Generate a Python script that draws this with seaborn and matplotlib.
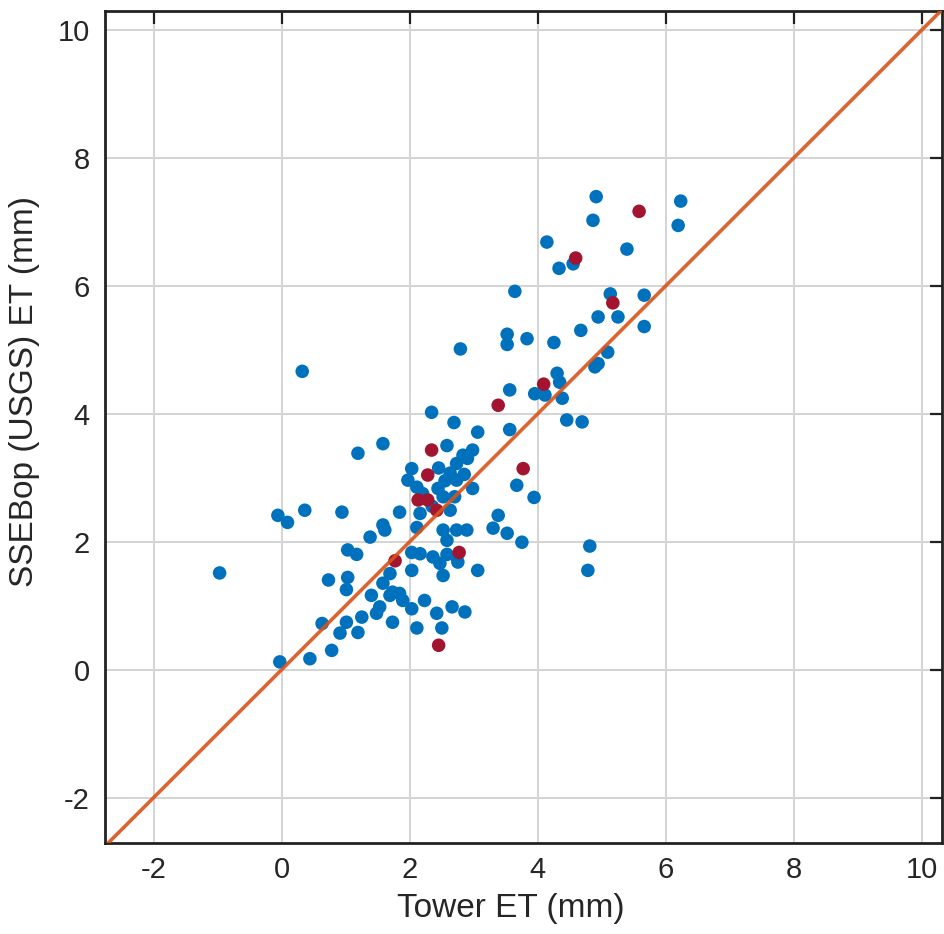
import numpy as np
import pandas as pd
import matplotlib
matplotlib.use("Agg")
import matplotlib.pyplot as plt
import seaborn as sns

# Tower-measured ET vs. SSEBop (USGS) estimate, mm/day
tower_blue = [
    4.91, 4.86, 6.23, 6.19, 4.14, 5.39, 4.55, 4.33, 3.64, 5.13,
    5.66, 4.94, 5.25, 5.66, 4.67, 2.79, 3.52, 3.52, 3.83, 4.25,
    5.09, 4.94, 4.89, 4.30, 3.56, 3.95, 4.11, 4.34, 4.38, 0.32,
    2.34, 2.69, 3.06, 3.56, 4.45, 4.69, 1.19, 1.58, 2.58, 2.98,
    2.83, 2.73, 2.03, 1.97, 2.63, 2.73, 2.44, 2.11, 2.98, 3.67,
    3.94, 2.52, 2.63, 2.16, 1.84, 0.94, -0.06, 0.09, 0.36, 1.58,
    1.61, 1.38, 2.11, 2.52, 2.73, 2.89, 3.38, 3.30, 3.52, 3.75,
    2.58, 4.81, 4.78, -0.97, 1.03, 1.17, 0.73, 1.03, 1.01, 1.40,
    1.58, 1.69, 0.63, 1.01, 1.25, 0.91, 1.19, 1.48, 1.73, 0.78,
    0.44, -0.03, 2.03, 2.16, 2.03, 2.36, 2.47, 2.52, 2.73, 2.75,
    3.06, 1.73, 1.84, 1.69, 1.89, 1.53, 2.23, 2.03, 2.42, 2.66,
    2.86, 2.11, 2.50, 2.58, 2.45, 2.55, 2.70, 2.85, 2.35, 2.90,
    2.20,
]
usgs_blue = [
    7.39, 7.02, 7.32, 6.94, 6.68, 6.57, 6.34, 6.27, 5.91, 5.87,
    5.85, 5.51, 5.51, 5.36, 5.30, 5.01, 5.24, 5.08, 5.17, 5.11,
    4.96, 4.78, 4.73, 4.63, 4.37, 4.31, 4.29, 4.49, 4.24, 4.66,
    4.02, 3.86, 3.71, 3.75, 3.90, 3.87, 3.38, 3.53, 3.50, 3.43,
    3.35, 3.22, 3.14, 2.96, 3.07, 2.96, 2.83, 2.85, 2.83, 2.88,
    2.69, 2.70, 2.49, 2.44, 2.46, 2.46, 2.41, 2.30, 2.49, 2.26,
    2.18, 2.07, 2.22, 2.18, 2.18, 2.18, 2.41, 2.21, 2.13, 1.99,
    2.02, 1.93, 1.55, 1.51, 1.87, 1.80, 1.40, 1.44, 1.25, 1.16,
    1.35, 1.50, 0.72, 0.74, 0.82, 0.57, 0.58, 0.88, 0.74, 0.30,
    0.17, 0.12, 1.83, 1.81, 1.55, 1.76, 1.66, 1.47, 1.76, 1.68,
    1.55, 1.21, 1.19, 1.16, 1.08, 0.98, 1.08, 0.95, 0.88, 0.98,
    0.90, 0.65, 0.65, 1.80, 3.15, 2.95, 2.70, 3.05, 2.55, 3.30,
    2.75,
]

tower_red = [5.58, 4.59, 5.17, 4.09, 3.38, 3.77, 2.34, 2.28, 2.13, 2.28,
             2.42, 1.77, 2.77, 2.45]
usgs_red = [7.16, 6.43, 5.73, 4.46, 4.13, 3.14, 3.43, 3.04, 2.65, 2.65,
            2.49, 1.70, 1.83, 0.38]

ticks = [-2, 0, 2, 4, 6, 8, 10]

df = pd.DataFrame({
    "tower": tower_blue + tower_red,
    "usgs": usgs_blue + usgs_red,
    "group": ["a"] * len(tower_blue) + ["b"] * len(tower_red),
})

sns.set_style("white")
plt.rcParams["font.family"] = ["Liberation Sans", "DejaVu Sans"]

fig = plt.figure(figsize=(9.44, 9.34), dpi=100)
ax = fig.add_axes([0.1112, 0.0974, 0.8867, 0.8908])

sns.scatterplot(data=df, x="tower", y="usgs", hue="group",
                palette={"a": "#0072BD", "b": "#A2142F"},
                s=95, linewidth=0, legend=False, ax=ax, zorder=3)

# 1:1 reference line
ax.axline((0, 0), slope=1, color="#D95319", linewidth=2.6, zorder=4, alpha=0.9)

ax.set_xlim(-2.76, 10.31)
ax.set_ylim(-2.71, 10.29)
ax.set_xticks(ticks)
ax.set_yticks(ticks)
ax.set_xticklabels([str(t) for t in ticks])
ax.set_yticklabels([str(t) for t in ticks])

ax.grid(True, color="#d4d4d4", linewidth=1.4)
ax.set_axisbelow(True)

for sp in ax.spines.values():
    sp.set_visible(True)
    sp.set_color("#222222")
    sp.set_linewidth(2.0)

ax.tick_params(direction="in", length=9, width=1.6, color="#222222",
               top=True, right=True, labelsize=21, labelcolor="#262626")
ax.tick_params(axis="x", pad=9)
ax.tick_params(axis="y", pad=11)

ax.set_xlabel("Tower ET (mm)", fontsize=24, color="#262626")
ax.set_ylabel("SSEBop (USGS) ET (mm)", fontsize=24, color="#262626")
ax.xaxis.set_label_coords(0.485, -0.060)
ax.yaxis.set_label_coords(-0.078, 0.543)

fig.savefig("out.png", dpi=100)
